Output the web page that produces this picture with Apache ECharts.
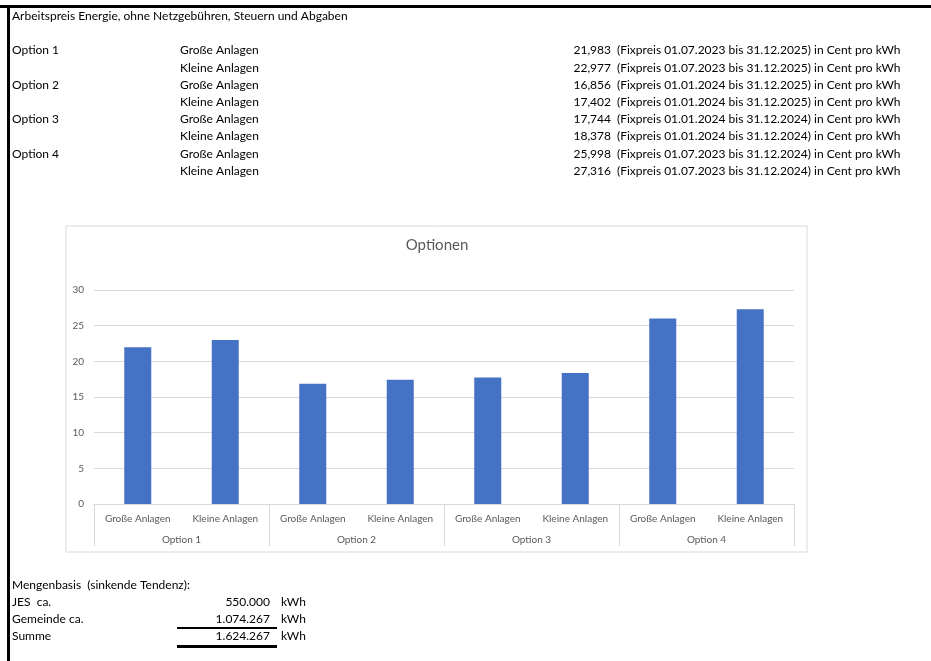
<!DOCTYPE html>
<html>
<head>
<meta charset="utf-8">
<script src="https://cdn.jsdelivr.net/npm/echarts@6/dist/echarts.min.js"></script>
<style>
html,body{margin:0;padding:0;background:#fff;}
#c{width:931px;height:661px;}
</style>
</head>
<body>
<div id="c"></div>
<script>
// ---- data ----
const headerText = 'Arbeitspreis Energie, ohne Netzgebühren, Steuern und Abgaben';
const options = ['Option 1', 'Option 2', 'Option 3', 'Option 4'];
const anlagen = ['Große Anlagen', 'Kleine Anlagen', 'Große Anlagen', 'Kleine Anlagen', 'Große Anlagen', 'Kleine Anlagen', 'Große Anlagen', 'Kleine Anlagen'];
const prices = [21.983, 22.977, 16.856, 17.402, 17.744, 18.378, 25.998, 27.316];
const periods = [
  '(Fixpreis 01.07.2023 bis 31.12.2025) in Cent pro kWh',
  '(Fixpreis 01.07.2023 bis 31.12.2025) in Cent pro kWh',
  '(Fixpreis 01.01.2024 bis 31.12.2025) in Cent pro kWh',
  '(Fixpreis 01.01.2024 bis 31.12.2025) in Cent pro kWh',
  '(Fixpreis 01.01.2024 bis 31.12.2024) in Cent pro kWh',
  '(Fixpreis 01.01.2024 bis 31.12.2024) in Cent pro kWh',
  '(Fixpreis 01.07.2023 bis 31.12.2024) in Cent pro kWh',
  '(Fixpreis 01.07.2023 bis 31.12.2024) in Cent pro kWh'
];
const chartTitle = 'Optionen';
const yTicks = [0, 5, 10, 15, 20, 25, 30];
const mengenTitle = 'Mengenbasis  (sinkende Tendenz):';
const mengenLabels = ['JES  ca.', 'Gemeinde ca.', 'Summe'];
const mengenValues = [550000, 1074267, 1624267];
const mengenUnit = 'kWh';

// ---- helpers ----
const FONT = 'Lato, "Open Sans", sans-serif';
function fmtDec(v) { return v.toFixed(3).replace('.', ','); }
function fmtInt(v) { return String(v).replace(/\B(?=(\d{3})+(?!\d))/g, '.'); }
function txt(x, y, s, opts) {
  opts = opts || {};
  return {
    type: 'text', x: x, y: y, silent: true,
    style: {
      text: s, fill: opts.fill || '#000', font: (opts.size || 12) + 'px ' + FONT,
      align: opts.align || 'left', verticalAlign: 'middle'
    }
  };
}

const graphics = [];
// sheet borders
graphics.push({ type: 'rect', shape: { x: 0, y: 5, width: 931, height: 3 }, style: { fill: '#000' }, silent: true });
graphics.push({ type: 'rect', shape: { x: 7, y: 5, width: 3, height: 656 }, style: { fill: '#000' }, silent: true });
// header
graphics.push(txt(12, 16, headerText));
// table rows
const rowY = [50, 68, 85, 102, 119, 136, 154, 171.5];
for (let i = 0; i < prices.length; i++) {
  if (i % 2 === 0) graphics.push(txt(12, rowY[i], options[i / 2]));
  graphics.push(txt(180, rowY[i], anlagen[i]));
  graphics.push(txt(611, rowY[i], fmtDec(prices[i]), { align: 'right' }));
  graphics.push(txt(617, rowY[i], periods[i]));
}
// chart frame
graphics.push({ type: 'rect', shape: { x: 66, y: 226, width: 741, height: 326 }, style: { fill: 'none', stroke: '#d9d9d9', lineWidth: 1 }, silent: true, z: -1 });
graphics.push(txt(437, 245, chartTitle, { size: 15, fill: '#595959', align: 'center' }));
// bottom block
graphics.push(txt(12, 585, mengenTitle));
const mY = [602.5, 619.5, 636.5];
for (let i = 0; i < mengenLabels.length; i++) {
  graphics.push(txt(12, mY[i], mengenLabels[i]));
  graphics.push(txt(270, mY[i], fmtInt(mengenValues[i]), { align: 'right' }));
  graphics.push(txt(281, mY[i], mengenUnit));
}
graphics.push({ type: 'rect', shape: { x: 177, y: 627, width: 100, height: 2 }, style: { fill: '#000' }, silent: true });
graphics.push({ type: 'rect', shape: { x: 177, y: 645, width: 100, height: 3 }, style: { fill: '#000' }, silent: true });

const chart = echarts.init(document.getElementById('c'), null, { renderer: 'canvas' });
chart.setOption({
  animation: false,
  backgroundColor: '#fff',
  textStyle: { fontFamily: FONT },
  graphic: graphics,
  grid: { left: 94, right: 137, top: 290, bottom: 157, containLabel: false },
  xAxis: [
    {
      type: 'category', position: 'bottom', data: anlagen,
      axisLine: { show: true, lineStyle: { color: '#d9d9d9', width: 1 } },
      axisTick: { show: false },
      axisLabel: { interval: 0, margin: 10, color: '#595959', fontSize: 10, fontFamily: FONT }
    },
    {
      type: 'category', position: 'bottom', data: options,
      axisLine: { show: false },
      axisTick: { show: true, interval: 0, length: 42, alignWithLabel: false, lineStyle: { color: '#d9d9d9', width: 1 } },
      axisLabel: { interval: 0, margin: 31, color: '#595959', fontSize: 10, fontFamily: FONT },
      splitLine: { show: false }
    }
  ],
  yAxis: {
    type: 'value', min: yTicks[0], max: yTicks[yTicks.length - 1], interval: 5,
    axisLine: { show: false }, axisTick: { show: false },
    axisLabel: { margin: 10, color: '#595959', fontSize: 10, fontFamily: FONT },
    splitLine: { lineStyle: { color: '#d9d9d9', width: 1 } }
  },
  series: [{
    type: 'bar', xAxisIndex: 0, data: prices, barWidth: 27,
    itemStyle: { color: '#4472C4' }
  }]
});
</script>
</body>
</html>
